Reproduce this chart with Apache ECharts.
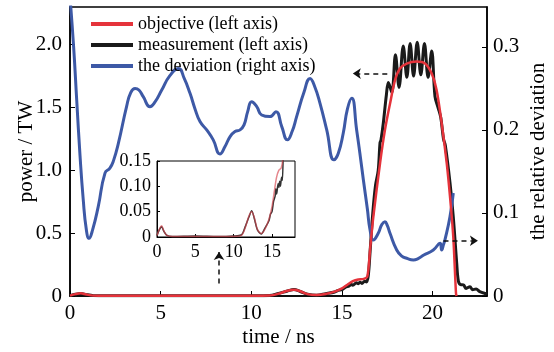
<!DOCTYPE html>
<html>
<head>
<meta charset="utf-8">
<script src="https://cdn.jsdelivr.net/npm/echarts@6/dist/echarts.min.js"></script>
<style>
  html, body { margin: 0; padding: 0; background: #fff; }
  #main { width: 554px; height: 352px; }
</style>
</head>
<body>
<div id="main"></div>
<script>
// time (ns) / value pairs
const objective = [
  [0, 0.003], [0.3, 0.015], [0.6, 0.022], [0.9, 0.012], [1.3, 0.003], [2, 0.001], [5, 0.001],
  [8, 0.001], [10, 0.001], [11, 0.003], [11.5, 0.018], [12, 0.042], [12.35, 0.05], [12.7, 0.038],
  [13.1, 0.015], [13.6, 0.007], [14.1, 0.016], [14.6, 0.035], [15, 0.06], [15.3, 0.09], [15.6, 0.118],
  [15.9, 0.132], [16.2, 0.136], [16.4, 0.155], [16.55, 0.37], [16.73, 0.63], [17.1, 1.056],
  [17.37, 1.32], [17.65, 1.53], [17.93, 1.72], [18.2, 1.81], [18.57, 1.85], [19.12, 1.866],
  [19.58, 1.85], [19.95, 1.77], [20.22, 1.64], [20.5, 1.375], [20.78, 1.056], [20.96, 0.79],
  [21.14, 0.47], [21.29, 0.02], [21.32, 0]
]

const measurement = [
  [0, 0.003], [0.3, 0.014], [0.6, 0.02], [0.9, 0.011], [1.3, 0.003], [2, 0.001], [5, 0.002],
  [8, 0.001], [10, 0.002], [11, 0.004], [11.5, 0.02], [12, 0.04], [12.35, 0.052], [12.7, 0.036],
  [13.1, 0.014], [13.6, 0.006], [14.1, 0.018], [14.6, 0.032], [14.8, 0.045], [15, 0.05], [15.2, 0.07],
  [15.4, 0.08], [15.5, 0.095], [15.6, 0.085], [15.8, 0.105], [15.9, 0.098], [16.0, 0.11], [16.1, 0.1],
  [16.25, 0.118], [16.35, 0.112], [16.45, 0.16], [16.55, 0.35], [16.7, 0.66], [16.85, 0.88],
  [17.0, 1.0], [17.1, 1.22], [17.15, 1.24], [17.28, 1.375], [17.45, 1.6], [17.56, 1.7], [17.75, 1.62],
  [17.95, 1.92], [18.15, 1.66], [18.38, 1.99], [18.58, 1.74], [18.76, 2.01], [18.95, 1.75],
  [19.15, 2.02], [19.35, 1.76], [19.55, 2.01], [19.75, 1.74], [19.95, 1.95], [20.13, 1.59],
  [20.3, 1.5], [20.45, 1.42], [20.6, 1.25], [20.7, 1.2], [20.96, 0.9], [21.14, 0.63], [21.33, 0.26],
  [21.42, 0.12], [21.55, 0.09], [21.7, 0.088], [21.85, 0.06], [22.06, 0.074], [22.2, 0.05],
  [22.4, 0.055], [22.6, 0.035], [22.9, 0.02], [23, 0.018]
]

const deviation = [
  [0, 0.36], [0.2, 0.3], [0.37, 0.236], [0.55, 0.17], [0.73, 0.116], [0.9, 0.08], [1.05, 0.0695],
  [1.25, 0.08], [1.56, 0.108], [1.93, 0.148], [2.2, 0.154], [2.4, 0.163], [2.67, 0.184], [3.12, 0.228],
  [3.35, 0.245], [3.59, 0.25], [3.8, 0.248], [4.04, 0.24], [4.41, 0.228], [4.7, 0.234], [5.06, 0.248],
  [5.5, 0.265], [5.98, 0.274], [6.3, 0.262], [6.62, 0.244], [6.9, 0.225], [7.17, 0.21], [7.54, 0.2],
  [7.9, 0.188], [8.27, 0.171], [8.55, 0.18], [8.83, 0.192], [9.1, 0.198], [9.38, 0.2], [9.6, 0.206],
  [9.8, 0.222], [10.02, 0.234], [10.3, 0.228], [10.57, 0.218], [11.03, 0.216], [11.36, 0.222],
  [11.68, 0.204], [11.99, 0.188], [12.25, 0.198], [12.5, 0.216], [12.9, 0.245], [13.24, 0.262],
  [13.5, 0.252], [13.79, 0.232], [14.16, 0.2], [14.56, 0.164], [14.8, 0.172], [15.07, 0.196],
  [15.3, 0.225], [15.54, 0.238], [15.81, 0.2], [16.0, 0.17], [16.18, 0.14], [16.4, 0.105],
  [16.55, 0.0795], [16.73, 0.0675], [17.0, 0.0755], [17.2, 0.086], [17.37, 0.0895], [17.5, 0.085],
  [17.65, 0.0755], [18.02, 0.0554], [18.3, 0.048], [18.57, 0.0454], [18.94, 0.0434], [19.2, 0.045],
  [19.49, 0.049], [20.04, 0.0554], [20.41, 0.0635], [20.5, 0.0554], [20.6, 0.062], [20.68, 0.0675],
  [20.96, 0.0956], [21.14, 0.124]
]

const names = ['objective (left axis)', 'measurement (left axis)', 'the deviation (right axis)']

const font = '"Liberation Serif", serif'
const oneDec = v => (v === 0 ? '0' : v.toFixed(1))

const myChart = echarts.init(document.getElementById('main'), null, { renderer: 'canvas' })

const dashed = { color: '#111', width: 1.5, type: [5, 4] }

let option = {
  animation: false,
  backgroundColor: '#fff',
  textStyle: { fontFamily: font, color: '#000' },
  legend: {
    data: names,
    orient: 'vertical',
    left: 86,
    top: 10,
    itemWidth: 42,
    itemHeight: 4,
    itemGap: 3,
    icon: 'rect',
    textStyle: { fontFamily: font, fontSize: 18, color: '#000' }
  },
  grid: [
    { left: 70, top: 7, right: 67, bottom: 56, outerBoundsMode: 'none', containLabel: false,
      show: true, borderColor: '#000', borderWidth: 1.5, backgroundColor: 'transparent' },
    { left: 157, top: 161, width: 138, height: 76, outerBoundsMode: 'none', containLabel: false,
      show: true, borderColor: '#000', borderWidth: 1, backgroundColor: '#fff' }
  ],
  xAxis: [
    {
      type: 'value', gridIndex: 0, min: 0, max: 23, interval: 5,
      name: 'time / ns', nameLocation: 'middle', nameGap: 31, nameMoveOverlap: false,
      nameTextStyle: { fontFamily: font, fontSize: 21, color: '#000' },
      axisLine: { lineStyle: { color: '#000', width: 1.5 } },
      axisTick: { inside: true, length: 5, lineStyle: { color: '#000' } },
      axisLabel: { fontFamily: font, fontSize: 21, color: '#000', margin: 7, showMaxLabel: false },
      splitLine: { show: false }
    },
    {
      type: 'value', gridIndex: 1, min: 0, max: 18, interval: 5,
      axisLine: { lineStyle: { color: '#000', width: 1 } },
      axisTick: { inside: true, length: 3, lineStyle: { color: '#000' } },
      axisLabel: { fontFamily: font, fontSize: 18, color: '#000', margin: 6, showMaxLabel: false },
      splitLine: { show: false }
    }
  ],
  yAxis: [
    {
      type: 'value', gridIndex: 0, min: 0, max: 2.3, interval: 0.5, position: 'left',
      name: 'power / TW', nameLocation: 'middle', nameGap: 33, nameRotate: 90, nameMoveOverlap: false,
      nameTextStyle: { fontFamily: font, fontSize: 21, color: '#000' },
      axisLine: { show: true, lineStyle: { color: '#000', width: 1.5 } },
      axisTick: { inside: true, length: 5, lineStyle: { color: '#000' } },
      axisLabel: { fontFamily: font, fontSize: 21, color: '#000', margin: 8, showMaxLabel: false, formatter: oneDec },
      splitLine: { show: false }
    },
    {
      type: 'value', gridIndex: 0, min: 0, max: 0.348, interval: 0.1, position: 'right',
      name: 'the relative deviation', nameLocation: 'middle', nameGap: 41, nameRotate: 90, nameMoveOverlap: false,
      nameTextStyle: { fontFamily: font, fontSize: 21, color: '#000' },
      axisLine: { show: true, lineStyle: { color: '#000', width: 1.5 } },
      axisTick: { inside: true, length: 5, lineStyle: { color: '#000' } },
      axisLabel: { fontFamily: font, fontSize: 21, color: '#000', margin: 6, showMaxLabel: false, formatter: oneDec },
      splitLine: { show: false }
    },
    {
      type: 'value', gridIndex: 1, min: 0, max: 0.15, interval: 0.05,
      axisLine: { show: true, lineStyle: { color: '#000', width: 1 } },
      axisTick: { inside: true, length: 3, lineStyle: { color: '#000' } },
      axisLabel: { fontFamily: font, fontSize: 18, color: '#000', margin: 6,
        formatter: v => (v === 0 ? '0' : v.toFixed(2)) },
      splitLine: { show: false }
    }
  ],
  series: [
    {
      name: names[1], type: 'line', data: measurement, xAxisIndex: 0, yAxisIndex: 0,
      showSymbol: false, smooth: 0.35, z: 2,
      itemStyle: { color: '#1a1a1a' },
      lineStyle: { color: '#1a1a1a', width: 3 },
      markLine: {
        silent: true, symbol: ['none', 'arrow'], symbolSize: 8,
        label: { show: false }, lineStyle: dashed,
        data: [
          [{ coord: [17.5, 1.77] }, { coord: [15.6, 1.77] }],
          [{ coord: [20.6, 0.44] }, { coord: [22.5, 0.44] }],
          [{ coord: [8.22, 0.1] }, { coord: [8.22, 0.35] }]
        ]
      }
    },
    {
      name: names[2], type: 'line', data: deviation, xAxisIndex: 0, yAxisIndex: 1,
      showSymbol: false, smooth: 0.5, z: 3,
      itemStyle: { color: '#3d59a6' },
      lineStyle: { color: '#3d59a6', width: 3 }
    },
    {
      name: names[0], type: 'line', data: objective, xAxisIndex: 0, yAxisIndex: 0,
      showSymbol: false, smooth: 0.3, z: 4,
      itemStyle: { color: '#e5333b' },
      lineStyle: { color: '#e5333b', width: 2.5 }
    },
    // inset: zoom on the low power part
    {
      type: 'line', data: measurement, xAxisIndex: 1, yAxisIndex: 2,
      showSymbol: false, smooth: 0.3, z: 5, legendHoverLink: false,
      lineStyle: { color: '#333', width: 1.5 }
    },
    {
      type: 'line', data: objective, xAxisIndex: 1, yAxisIndex: 2,
      showSymbol: false, smooth: 0.3, z: 6, legendHoverLink: false,
      lineStyle: { color: 'rgba(215,70,80,0.65)', width: 1.5 }
    }
  ]
}

option && myChart.setOption(option)
</script>
</body>
</html>
